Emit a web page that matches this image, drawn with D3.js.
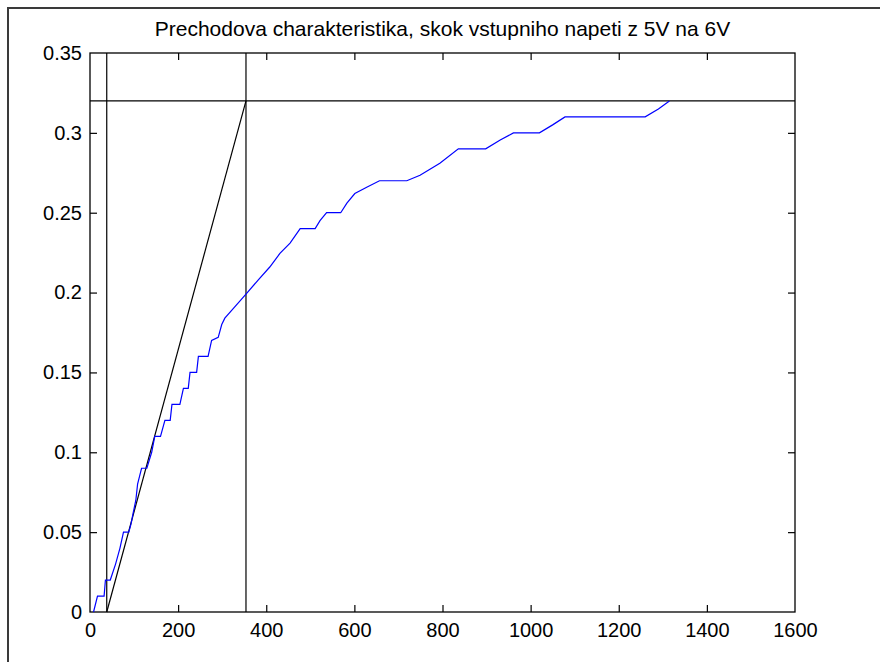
<!DOCTYPE html>
<html>
<head>
<meta charset="utf-8">
<script src="https://cdn.jsdelivr.net/npm/d3@7"></script>
<style>
  html, body { margin: 0; padding: 0; background: #fff; }
  svg { display: block; }
  text { font-family: "Liberation Sans", Arial, sans-serif; fill: #000; }
</style>
</head>
<body>
<svg id="chart" width="880" height="662"></svg>
<script>
// Step response samples: time [s] and output [V]
const time = [8, 17, 32, 35, 46, 58, 68, 76, 88, 93, 98, 104, 108, 117, 129, 140, 147, 160, 170, 182,
  186, 204, 212, 223, 227, 242, 246, 268, 276, 291, 299, 306, 325, 354, 382, 408, 431, 454, 477, 511,
  522, 537, 569, 583, 601, 628, 657, 719, 749, 794, 836, 898, 931, 961, 1020, 1050, 1078, 1260, 1290, 1315];
const response = [0, 0.01, 0.01, 0.02, 0.02, 0.03, 0.04, 0.05, 0.05, 0.055, 0.062, 0.07, 0.08, 0.09, 0.09, 0.10, 0.11, 0.11, 0.12, 0.12,
  0.13, 0.13, 0.14, 0.14, 0.15, 0.15, 0.16, 0.16, 0.17, 0.172, 0.18, 0.184, 0.19, 0.199, 0.208, 0.216, 0.2245, 0.231, 0.24, 0.24,
  0.245, 0.25, 0.25, 0.256, 0.262, 0.266, 0.27, 0.27, 0.2735, 0.281, 0.29, 0.29, 0.2955, 0.30, 0.30, 0.305, 0.31, 0.31, 0.315, 0.32];

// Tangent construction: steady-state level, dead time and time constant end
const steadyState = 0.32;
const deadTime = 38;
const tangentEnd = 354;

const xTicks = [0, 200, 400, 600, 800, 1000, 1200, 1400, 1600];
const yTicks = [0, 0.05, 0.1, 0.15, 0.2, 0.25, 0.3, 0.35];
const yTickLabels = ["0", "0.05", "0.1", "0.15", "0.2", "0.25", "0.3", "0.35"];
const titleText = "Prechodova charakteristika, skok vstupniho napeti z 5V na 6V";

const svg = d3.select("#chart");
const box = { left: 90, right: 795, top: 53, bottom: 612 };

const x = d3.scaleLinear().domain([0, 1600]).range([box.left, box.right]);
const y = d3.scaleLinear().domain([0, 0.35]).range([box.bottom, box.top]);

// figure frame
svg.append("path")
  .attr("d", "M8,662 L8,8 L880,8")
  .attr("fill", "none").attr("stroke", "#3a3a3a").attr("stroke-width", 2);

// title
svg.append("text")
  .attr("x", (box.left + box.right) / 2).attr("y", 36)
  .attr("text-anchor", "middle")
  .style("font-size", "21px")
  .text(titleText);

const tickLen = 7;

// axes with inward ticks
const xAxisB = d3.axisBottom(x).tickValues(xTicks).tickSizeInner(-tickLen).tickSizeOuter(0).tickPadding(11).tickFormat(d3.format("d"));
const xAxisT = d3.axisTop(x).tickValues(xTicks).tickSizeInner(-tickLen).tickSizeOuter(0).tickFormat("");
const yAxisL = d3.axisLeft(y).tickValues(yTicks).tickSizeInner(-tickLen).tickSizeOuter(0).tickPadding(8).tickFormat((d, i) => yTickLabels[i]);
const yAxisR = d3.axisRight(y).tickValues(yTicks).tickSizeInner(-tickLen).tickSizeOuter(0).tickFormat("");

function style(g) {
  g.select(".domain").remove();
  g.selectAll(".tick line").attr("stroke", "#000").attr("stroke-width", 1.2);
  g.selectAll(".tick text").style("font-size", "20px").attr("fill", "#000");
}
svg.append("g").attr("transform", `translate(0,${box.bottom})`).call(xAxisB).call(style);
svg.append("g").attr("transform", `translate(0,${box.top})`).call(xAxisT).call(style);
svg.append("g").attr("transform", `translate(${box.left},0)`).call(yAxisL).call(style);
svg.append("g").attr("transform", `translate(${box.right},0)`).call(yAxisR).call(style);

// tick marks on the box corners are hidden by the frame anyway
svg.selectAll(".tick").filter(d => d === 0 || d === 1600 || d === 0.35).select("line").remove();

// axes box
svg.append("rect")
  .attr("x", box.left).attr("y", box.top)
  .attr("width", box.right - box.left).attr("height", box.bottom - box.top)
  .attr("fill", "none").attr("stroke", "#000").attr("stroke-width", 1.3);

const plot = svg.append("g");

// construction lines
function refLine(x1, y1, x2, y2) {
  plot.append("line")
    .attr("x1", x(x1)).attr("x2", x(x2))
    .attr("y1", y(y1)).attr("y2", y(y2))
    .attr("stroke", "#000").attr("stroke-width", 1.2);
}
refLine(0, steadyState, 1600, steadyState);
refLine(deadTime, 0, deadTime, 0.35);
refLine(tangentEnd, 0, tangentEnd, 0.35);
refLine(deadTime, 0, tangentEnd, steadyState);

// measured response
const pts = time.map((t, i) => [t, response[i]]);
plot.append("path")
  .datum(pts)
  .attr("fill", "none")
  .attr("stroke", "#0000ff")
  .attr("stroke-width", 1.2)
  .attr("d", d3.line().x(d => x(d[0])).y(d => y(d[1])));
</script>
</body>
</html>
